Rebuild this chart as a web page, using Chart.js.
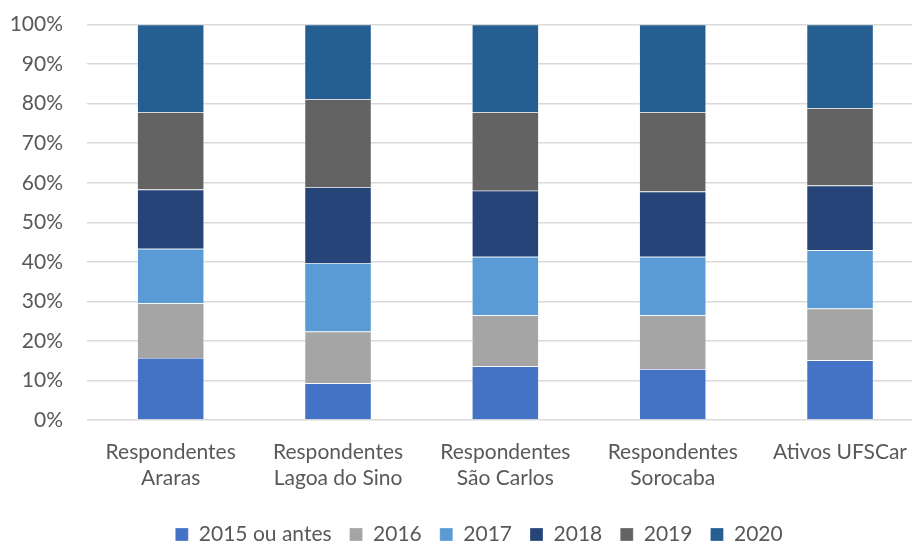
<!DOCTYPE html>
<html>
<head>
<meta charset="utf-8">
<script src="https://cdn.jsdelivr.net/npm/chart.js@4/dist/chart.umd.min.js"></script>
<style>
  html, body { margin: 0; padding: 0; background: #fff; overflow: hidden; }
  #wrap { width: 926px; height: 567px; margin-top: -12px; position: relative; }
</style>
</head>
<body>
<div id="wrap"><canvas id="c"></canvas></div>
<script>
const categories = [
  ['Respondentes', 'Araras'],
  ['Respondentes', 'Lagoa do Sino'],
  ['Respondentes', 'São Carlos'],
  ['Respondentes', 'Sorocaba'],
  'Ativos UFSCar'
];
const seriesNames = ['2015 ou antes', '2016', '2017', '2018', '2019', '2020'];
const s2015 = [15.7, 9.3, 13.6, 12.9, 15.1];
const s2016 = [13.8, 13.1, 12.9, 13.6, 13.1];
const s2017 = [13.8, 17.2, 14.8, 14.8, 14.7];
const s2018 = [15.0, 19.3, 16.7, 16.5, 16.4];
const s2019 = [19.6, 22.3, 19.9, 20.1, 19.6];
const s2020 = [22.1, 18.8, 22.1, 22.1, 21.1];
const yTicks = [0, 10, 20, 30, 40, 50, 60, 70, 80, 90, 100];

const colors = ['#4472C4', '#A5A5A5', '#5B9BD5', '#264478', '#636363', '#255E91'];
const allSeries = [s2015, s2016, s2017, s2018, s2019, s2020];
const FONT = 'Lato';
const TXT = '#595959';

const legendShift = {
  id: 'legendShift',
  afterLayout(chart) {
    const lg = chart.legend;
    if (lg) { lg.left += 16; lg.right += 16; }
  }
};

new Chart(document.getElementById('c'), {
  type: 'bar',
  plugins: [legendShift],
  data: {
    labels: categories,
    datasets: allSeries.map((d, i) => ({
      label: seriesNames[i],
      data: d,
      backgroundColor: colors[i],
      borderColor: 'rgba(255,255,255,0.4)',
      borderWidth: 0.7,
      categoryPercentage: 1,
      barPercentage: 0.4
    }))
  },
  options: {
    responsive: true,
    maintainAspectRatio: false,
    animation: false,
    layout: { padding: { top: 3, left: 0, right: 0, bottom: 0 } },
    plugins: {
      tooltip: { enabled: false },
      legend: {
        position: 'bottom',
        align: 'center',
        labels: {
          color: TXT,
          font: { family: FONT, size: 21 },
          boxWidth: 13,
          boxHeight: 13,
          padding: 18,
          useBorderRadius: false
        }
      }
    },
    scales: {
      x: {
        stacked: true,
        grid: { display: false, drawTicks: false },
        border: { display: false },
        afterFit: (scale) => { scale.height = 86; },
        ticks: {
          color: TXT,
          font: { family: FONT, size: 21, lineHeight: 1.24 },
          padding: 19,
          maxRotation: 0,
          autoSkip: false
        }
      },
      y: {
        stacked: true,
        min: 0,
        max: 100,
        afterBuildTicks: (scale) => { scale.ticks = yTicks.map(v => ({ value: v })); },
        afterFit: (scale) => { scale.width = 87; },
        grid: { color: '#D9D9D9', lineWidth: 1.5, drawTicks: false },
        border: { display: false },
        ticks: {
          color: TXT,
          font: { family: FONT, size: 21 },
          padding: 24,
          callback: (v) => v + '%'
        }
      }
    }
  }
});
</script>
</body>
</html>
